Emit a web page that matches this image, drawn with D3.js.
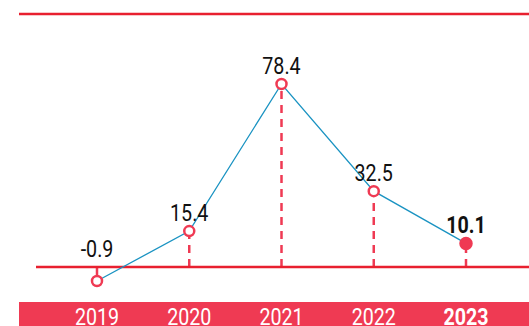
<!DOCTYPE html>
<html>
<head>
<meta charset="utf-8">
<script src="https://cdn.jsdelivr.net/npm/d3@7"></script>
<style>
	body { margin: 0; background: #fff; }
	svg { display: block; font-family: "Roboto", "Liberation Sans", sans-serif; }
</style>
</head>
<body>
<div id="chart"></div>
<script>
var years = ["2019", "2020", "2021", "2022", "2023"];
var values = [-0.9, 15.4, 78.4, 32.5, 10.1];
var highlight = "2023";

var width = 529,
	height = 326;

var red = "#e8202f",
	pink = "#ef3a53",
	blue = "#1a93c2";

var narrow = 0.82; // squeeze text horizontally, condensed look

var data = years.map((y, i) => ({ year: y, value: values[i] }));

var svg = d3.select("#chart")
	.append("svg")
	.attr("width", width)
	.attr("height", height);

var x = d3.scalePoint()
	.domain(years)
	.range([97, 466]);

var y = d3.scaleLinear()
	.domain([0, 78.4])
	.range([267, 84]);

// negative values are pushed a little below the baseline so they stay visible
function yPos(v) {
	return v < 0 ? Math.max(y(v), y(0) + 14) : y(v);
}

// top rule
svg.append("line")
	.attr("x1", 19).attr("x2", width)
	.attr("y1", 14).attr("y2", 14)
	.attr("stroke", red)
	.attr("stroke-width", 2.5);

// axis band
svg.append("rect")
	.attr("x", 19)
	.attr("y", 302)
	.attr("width", width - 19)
	.attr("height", height - 302)
	.attr("fill", pink);

svg.selectAll(".year")
	.data(data)
	.enter()
	.append("text")
	.attr("class", "year")
	.attr("transform", d => `translate(${x(d.year)},325) scale(${narrow},1)`)
	.attr("text-anchor", "middle")
	.attr("fill", "#fff")
	.style("font-size", "24px")
	.style("font-weight", d => d.year === highlight ? "bold" : "normal")
	.text(d => d.year);

// stems
svg.selectAll(".stem")
	.data(data)
	.enter()
	.append("line")
	.attr("class", "stem")
	.attr("x1", d => x(d.year))
	.attr("x2", d => x(d.year))
	.attr("y1", y(0))
	.attr("y2", d => yPos(d.value))
	.attr("stroke", pink)
	.attr("stroke-width", 2.5)
	.attr("stroke-dasharray", d => d.value < 0 ? null : "8,6");

// baseline
svg.append("line")
	.attr("x1", 36).attr("x2", width)
	.attr("y1", y(0)).attr("y2", y(0))
	.attr("stroke", red)
	.attr("stroke-width", 2.5);

// line
var line = d3.line()
	.x(d => x(d.year))
	.y(d => yPos(d.value));

svg.append("path")
	.datum(data)
	.attr("d", line)
	.attr("fill", "none")
	.attr("stroke", blue)
	.attr("stroke-width", 1.3);

// markers
svg.selectAll(".dot")
	.data(data)
	.enter()
	.append("circle")
	.attr("class", "dot")
	.attr("cx", d => x(d.year))
	.attr("cy", d => yPos(d.value))
	.attr("r", d => d.year === highlight ? 5.5 : 5)
	.attr("fill", d => d.year === highlight ? pink : "#fff")
	.attr("stroke", pink)
	.attr("stroke-width", 2.5);

// value labels
svg.selectAll(".label")
	.data(data)
	.enter()
	.append("text")
	.attr("class", "label")
	.attr("transform", d => `translate(${x(d.year)},${Math.min(yPos(d.value), y(0)) - 10}) scale(${narrow},1)`)
	.attr("text-anchor", "middle")
	.attr("fill", "#111")
	.style("font-size", "24px")
	.style("font-weight", d => d.year === highlight ? "bold" : "normal")
	.text(d => d.value);
</script>
</body>
</html>
